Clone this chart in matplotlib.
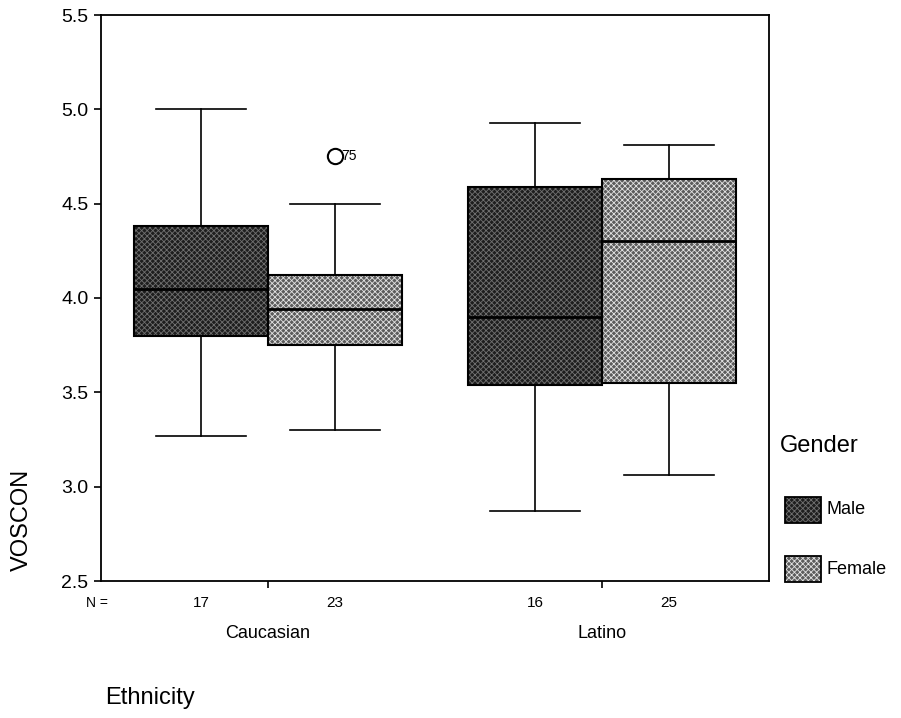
import matplotlib.pyplot as plt
from matplotlib.patches import PathPatch, Rectangle
from matplotlib.transforms import blended_transform_factory
import numpy as np

plt.rcParams['font.family'] = ['Liberation Sans', 'DejaVu Sans']
plt.rcParams['hatch.linewidth'] = 0.6

# data
ethnicities = ['Caucasian', 'Latino']
genders = ['Male', 'Female']
counts = [17, 23, 16, 25]
whislo = [3.27, 3.30, 2.87, 3.06]
q1 = [3.80, 3.75, 3.54, 3.55]
med = [4.05, 3.94, 3.90, 4.30]
q3 = [4.38, 4.12, 4.59, 4.63]
whishi = [5.00, 4.50, 4.93, 4.81]
fliers = [[], [4.75], [], []]
flier_ids = [[], ['75'], [], []]

positions = [0.8, 1.2, 1.8, 2.2]
face = ['#1e1e1e', '#5c5c5c', '#1e1e1e', '#5c5c5c']
dots = ['#707070', '#e2e2e2', '#707070', '#e2e2e2']

fig = plt.figure(figsize=(9.01, 7.18), dpi=100)
ax = fig.add_axes([101 / 901, 1 - 581 / 718, 668 / 901, 566 / 718])

stats = []
for i in range(4):
    stats.append(dict(med=med[i], q1=q1[i], q3=q3[i], whislo=whislo[i],
                      whishi=whishi[i], fliers=np.array(fliers[i])))

bp = ax.bxp(stats, positions=positions, widths=0.4, capwidths=0.27,
            patch_artist=True, manage_ticks=False,
            medianprops=dict(color='black', linewidth=2),
            whiskerprops=dict(color='black', linewidth=1.2),
            capprops=dict(color='black', linewidth=1.2),
            flierprops=dict(marker='o', markerfacecolor='none',
                            markeredgecolor='black', markersize=11,
                            markeredgewidth=1.5))

for i, box in enumerate(bp['boxes']):
    box.set_facecolor(face[i])
    box.set_edgecolor(dots[i])
    box.set_hatch('xxxxxx')
    box.set_linewidth(0)
    ax.add_patch(PathPatch(box.get_path(), fill=False, edgecolor='black',
                           linewidth=1.5, zorder=2.5))
    for v, lab in zip(fliers[i], flier_ids[i]):
        ax.text(positions[i] + 0.018, v, lab, fontsize=10, va='center',
                ha='left')

ax.set_xlim(0.5, 2.5)
ax.set_ylim(2.5, 5.5)
ax.set_yticks([2.5, 3.0, 3.5, 4.0, 4.5, 5.0, 5.5])
ax.set_yticklabels(['2.5', '3.0', '3.5', '4.0', '4.5', '5.0', '5.5'])
ax.tick_params(axis='y', labelsize=14, length=5, width=1.2, pad=4)
ax.set_xticks([1, 2])
ax.set_xticklabels(ethnicities)
ax.tick_params(axis='x', labelsize=13, length=5, width=1.2, pad=27)
for s in ax.spines.values():
    s.set_linewidth(1.3)

trans = blended_transform_factory(ax.transData, ax.transAxes)
for p, n in zip(positions, counts):
    ax.text(p, -0.038, str(n), transform=trans, ha='center', va='center',
            fontsize=11)
ax.text(-0.006, -0.038, 'N =', transform=ax.transAxes, ha='center',
        va='center', fontsize=10)

fig.text(150 / 901, 1 - 698 / 718, 'Ethnicity', fontsize=17,
         ha='center', va='center')
fig.text(22 / 901, 1 - 520 / 718, 'VOSCON', fontsize=17, rotation=90,
         ha='center', va='center')

# legend
fig.text(780 / 901, 1 - 446 / 718, 'Gender', fontsize=17, ha='left',
         va='center')
for j, (g, y0) in enumerate(zip(genders, [497, 556])):
    r = Rectangle((785 / 901, 1 - (y0 + 26) / 718), 36 / 901, 26 / 718,
                  transform=fig.transFigure, facecolor=face[j],
                  edgecolor=dots[j], hatch='xxxxxx', linewidth=0)
    fig.patches.append(r)
    fig.patches.append(Rectangle((785 / 901, 1 - (y0 + 26) / 718),
                                 36 / 901, 26 / 718,
                                 transform=fig.transFigure, fill=False,
                                 edgecolor='black', linewidth=1.3))
    fig.text(826 / 901, 1 - (y0 + 13) / 718, g, fontsize=13, ha='left',
             va='center')

fig.savefig('out.png', dpi=100)
